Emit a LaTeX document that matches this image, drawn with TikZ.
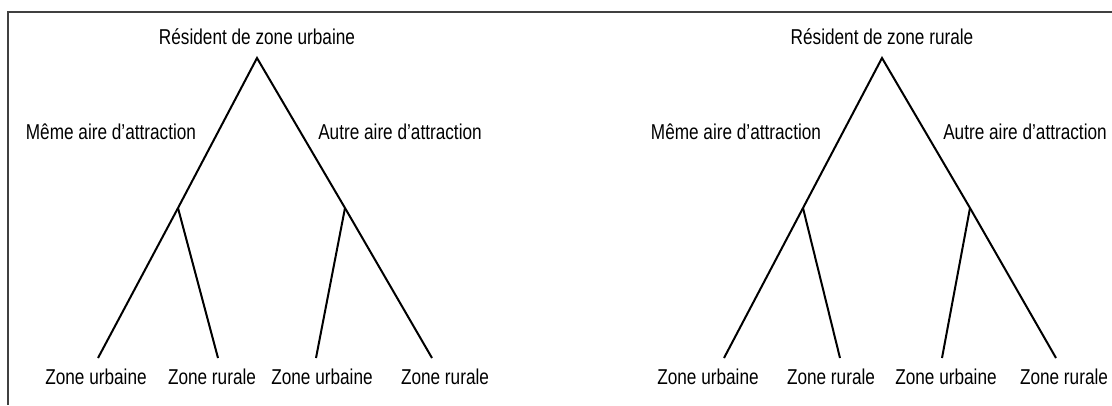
\documentclass[tikz,border=0pt]{standalone}
\usepackage{fontspec}
\setmainfont[FakeStretch=0.8]{Liberation Sans}
\usetikzlibrary{positioning}

\begin{document}
\begin{tikzpicture}[x=1pt, y=-1pt, font=\fontsize{21.5}{24}\selectfont,
    branch/.style={line width=2pt},
    lbl/.style={inner sep=0pt, anchor=base}]
    \useasboundingbox (0,0) rectangle (1112,405);
    \draw[line width=2pt, black!75] (1112,12) -- (8,12) -- (8,405);

    % arbre urbain
    \node[lbl] (uroot) at (257,44) {Résident de zone urbaine};
    \coordinate (utop) at (257,58);
    \coordinate (umeme) at (178,208);
    \coordinate (uautre) at (345,208);
    \coordinate (u1) at (98,358);
    \coordinate (u2) at (218,358);
    \coordinate (u3) at (316,358);
    \coordinate (u4) at (432,358);
    \node[lbl] (umemelbl) at (111,139) {Même aire d’attraction};
    \node[lbl] (uautrelbl) at (400,139) {Autre aire d’attraction};
    \node[lbl] (uzu1) at (96,384) {Zone urbaine};
    \node[lbl] (uzr1) at (212,384) {Zone rurale};
    \node[lbl] (uzu2) at (322,384) {Zone urbaine};
    \node[lbl] (uzr2) at (445,384) {Zone rurale};
    \draw[branch] (u1) -- (umeme) -- (utop) -- (uautre) -- (u4);
    \draw[branch] (umeme) -- (u2);
    \draw[branch] (uautre) -- (u3);

    % arbre rural
    \node[lbl] (rroot) at (882,44) {Résident de zone rurale};
    \coordinate (rtop) at (882,58);
    \coordinate (rmeme) at (803,208);
    \coordinate (rautre) at (970,208);
    \coordinate (r1) at (724,358);
    \coordinate (r2) at (840,358);
    \coordinate (r3) at (942,358);
    \coordinate (r4) at (1056,358);
    \node[lbl] (rmemelbl) at (736,139) {Même aire d’attraction};
    \node[lbl] (rautrelbl) at (1025,139) {Autre aire d’attraction};
    \node[lbl] (rzu1) at (708,384) {Zone urbaine};
    \node[lbl] (rzr1) at (831,384) {Zone rurale};
    \node[lbl] (rzu2) at (946,384) {Zone urbaine};
    \node[lbl] (rzr2) at (1064,384) {Zone rurale};
    \draw[branch] (r1) -- (rmeme) -- (rtop) -- (rautre) -- (r4);
    \draw[branch] (rmeme) -- (r2);
    \draw[branch] (rautre) -- (r3);
\end{tikzpicture}
\end{document}
